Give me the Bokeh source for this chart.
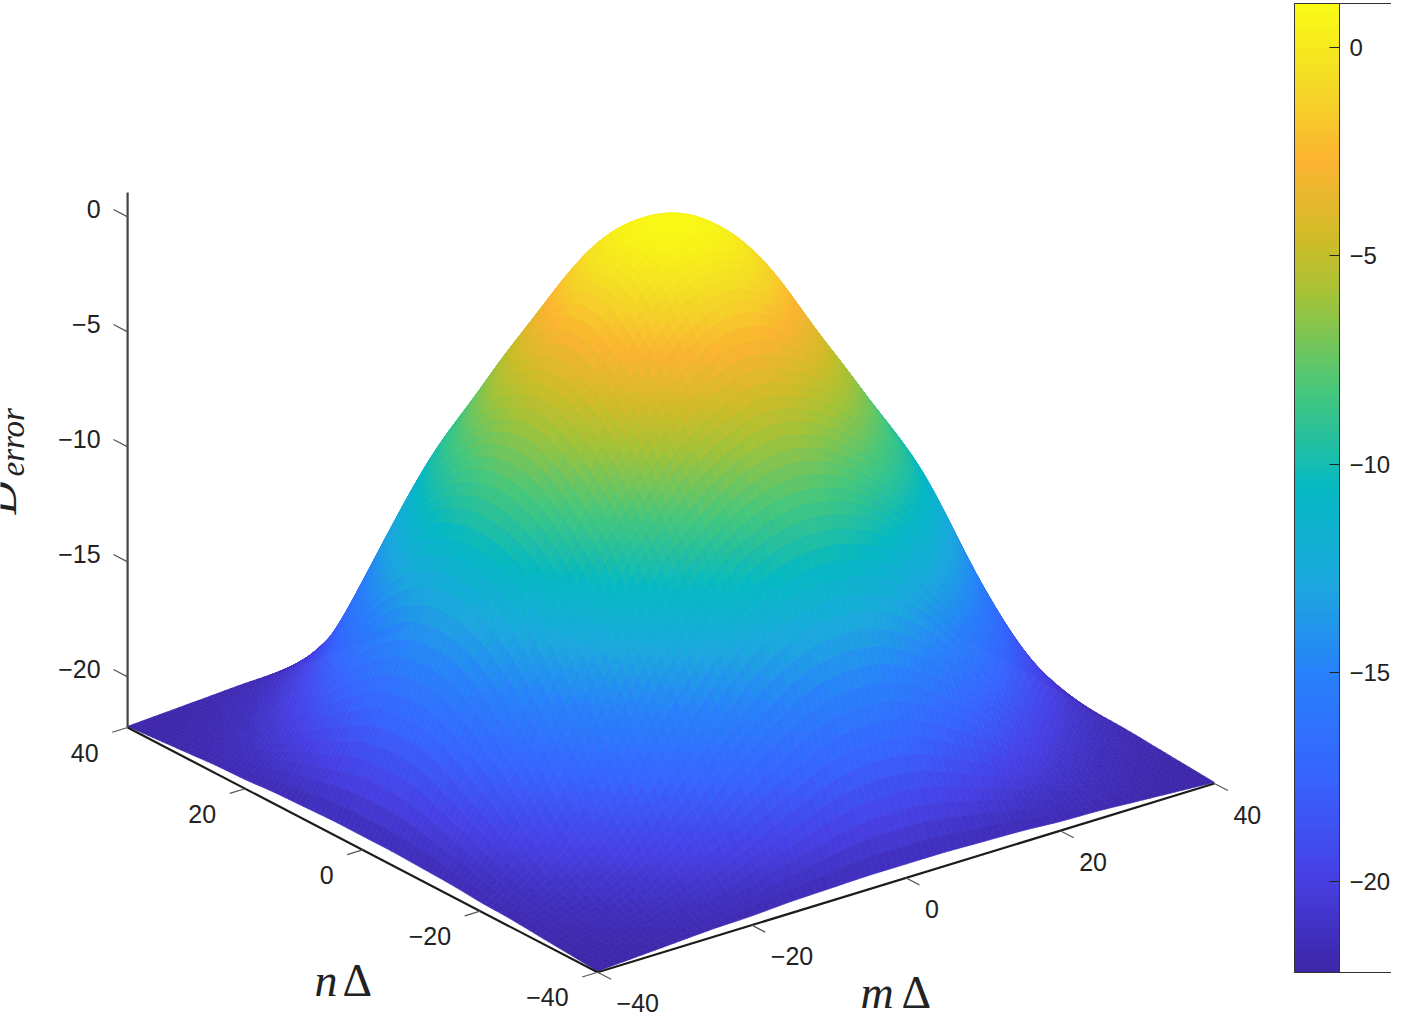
import numpy as np
from bokeh.plotting import figure
from bokeh.models import ColumnDataSource, ColorBar, LinearColorMapper, FixedTicker, Range1d
from bokeh.core.properties import value
from bokeh.embed import file_html
from bokeh.resources import INLINE

grid_m = [-40, -35, -30, -25, -20, -15, -10, -5, 0, 5, 10, 15, 20, 25, 30, 35, 40]
grid_n = [-40, -35, -30, -25, -20, -15, -10, -5, 0, 5, 10, 15, 20, 25, 30, 35, 40]
D_error = [
 [-22.15,-22.05,-21.95,-21.85,-21.8,-21.7,-21.65,-21.6,-21.6,-21.6,-21.65,-21.7,-21.8,-21.85,-21.95,-22.05,-22.15],
 [-22.05,-21.9,-21.6,-21.1,-20.4,-19.5,-18.7,-18.0,-17.8,-18.0,-18.7,-19.5,-20.4,-21.1,-21.6,-21.9,-22.05],
 [-21.95,-21.6,-21.0,-19.9,-18.4,-16.5,-15.0,-14.0,-13.7,-14.0,-15.0,-16.5,-18.4,-19.9,-21.0,-21.6,-21.95],
 [-21.85,-21.1,-19.9,-18.0,-15.3,-13.0,-11.1,-10.2,-9.9,-10.2,-11.1,-13.0,-15.3,-18.0,-19.9,-21.1,-21.85],
 [-21.8,-20.4,-18.4,-15.3,-12.3,-9.9,-8.4,-7.3,-6.9,-7.3,-8.4,-9.9,-12.3,-15.3,-18.4,-20.4,-21.8],
 [-21.7,-19.5,-16.5,-13.0,-9.9,-7.7,-5.7,-4.6,-4.1,-4.6,-5.7,-7.7,-9.9,-13.0,-16.5,-19.5,-21.7],
 [-21.65,-18.7,-15.0,-11.1,-8.4,-5.7,-3.5,-1.8,-1.2,-1.8,-3.5,-5.7,-8.4,-11.1,-15.0,-18.7,-21.65],
 [-21.6,-18.0,-14.0,-10.2,-7.3,-4.6,-1.8,0.0,0.5,0.0,-1.8,-4.6,-7.3,-10.2,-14.0,-18.0,-21.6],
 [-21.6,-17.8,-13.7,-9.9,-6.9,-4.1,-1.2,0.5,1.0,0.5,-1.2,-4.1,-6.9,-9.9,-13.7,-17.8,-21.6],
 [-21.6,-18.0,-14.0,-10.2,-7.3,-4.6,-1.8,0.0,0.5,0.0,-1.8,-4.6,-7.3,-10.2,-14.0,-18.0,-21.6],
 [-21.65,-18.7,-15.0,-11.1,-8.4,-5.7,-3.5,-1.8,-1.2,-1.8,-3.5,-5.7,-8.4,-11.1,-15.0,-18.7,-21.65],
 [-21.7,-19.5,-16.5,-13.0,-9.9,-7.7,-5.7,-4.6,-4.1,-4.6,-5.7,-7.7,-9.9,-13.0,-16.5,-19.5,-21.7],
 [-21.8,-20.4,-18.4,-15.3,-12.3,-9.9,-8.4,-7.3,-6.9,-7.3,-8.4,-9.9,-12.3,-15.3,-18.4,-20.4,-21.8],
 [-21.85,-21.1,-19.9,-18.0,-15.3,-13.0,-11.1,-10.2,-9.9,-10.2,-11.1,-13.0,-15.3,-18.0,-19.9,-21.1,-21.85],
 [-21.95,-21.6,-21.0,-19.9,-18.4,-16.5,-15.0,-14.0,-13.7,-14.0,-15.0,-16.5,-18.4,-19.9,-21.0,-21.6,-21.95],
 [-22.05,-21.9,-21.6,-21.1,-20.4,-19.5,-18.7,-18.0,-17.8,-18.0,-18.7,-19.5,-20.4,-21.1,-21.6,-21.9,-22.05],
 [-22.15,-22.05,-21.95,-21.85,-21.8,-21.7,-21.65,-21.6,-21.6,-21.6,-21.65,-21.7,-21.8,-21.85,-21.95,-22.05,-22.15],
]
m_ticks = [-40, -20, 0, 20, 40]
n_ticks = [-40, -20, 0, 20, 40]
z_ticks = [-20, -15, -10, -5, 0]
cbar_ticks = [-20, -15, -10, -5, 0]
z_limits = (-22.2, 1.06)
c_limits = (-22.18, 1.05)

# Colour map stops (position, r, g, b)
stops = [(0.0,62,38,168),(0.1,71,65,230),(0.2,55,100,255),(0.31,40,130,250),(0.4,28,168,223),
         (0.5,5,185,195),(0.6,70,200,125),(0.7,165,195,55),(0.76,210,188,40),(0.84,253,180,50),
         (0.91,245,215,40),(1.0,249,251,21)]
st = np.array(stops)
tt = np.linspace(0, 1, 256)
palette = ["#%02x%02x%02x" % (int(np.interp(t, st[:,0], st[:,1])), int(np.interp(t, st[:,0], st[:,2])),
                              int(np.interp(t, st[:,0], st[:,3]))) for t in tt]

def project(m, n, z):
    m, n, z = np.asarray(m, float), np.asarray(n, float), np.asarray(z, float)
    x = 678.5 + 7.71*m - 5.875*n
    y = 763.0 - 2.36*m - 3.06*n - 23.0*(z - z_limits[0])
    return x, y

# Smooth colour interpolation across the faces (like MATLAB's "shading interp")
def refine(a, k, axis):
    a = np.moveaxis(np.asarray(a, float), axis, 0)
    ext = np.concatenate([[2*a[0]-a[1]], a, [2*a[-1]-a[-2]]], axis=0)
    out = []
    for i in range(1, len(a)):
        p0, p1, p2, p3 = ext[i-1], ext[i], ext[i+1], ext[i+2]
        for s in range(k):
            t = s/k
            out.append(0.5*((2*p1) + (p2-p0)*t + (2*p0-5*p1+4*p2-p3)*t*t + (3*p1-p0-3*p2+p3)*t**3))
    out.append(a[-1])
    return np.moveaxis(np.array(out), 0, axis)

K = 6
Z = refine(refine(D_error, K, 0), K, 1)
M = refine(np.tile(np.array(grid_m, float), (17, 1)), K, 1)[0]
N = refine(np.tile(np.array(grid_n, float)[:, None], (1, 17)), K, 0)[:, 0]
MM, NN = np.meshgrid(M, N)
X, Y = project(MM, NN, Z)

cells = []
for i in range(Z.shape[0]-1):
    for j in range(Z.shape[1]-1):
        depth = 0.606*(MM[i, j]+MM[i, j+1])/2 + 0.795*(NN[i, j]+NN[i+1, j])/2
        cells.append((depth, i, j))
cells.sort(key=lambda c: -c[0])
xs, ys, cols = [], [], []
for _, i, j in cells:
    xs.append([X[i, j], X[i, j+1], X[i+1, j+1], X[i+1, j]])
    ys.append([Y[i, j], Y[i, j+1], Y[i+1, j+1], Y[i+1, j]])
    v = (Z[i, j]+Z[i, j+1]+Z[i+1, j]+Z[i+1, j+1])/4
    t = np.clip((v-c_limits[0])/(c_limits[1]-c_limits[0]), 0, 1)
    cols.append(palette[int(round(t*255))])

p = figure(width=1391, height=1018, output_backend="svg", toolbar_location=None,
           x_range=Range1d(8, 1399), y_range=Range1d(1026, 8), min_border=0)
p.axis.visible = False
p.grid.visible = False
p.outline_line_color = None
p.background_fill_color = "white"

p.patches("xs", "ys", fill_color="cols", line_color="cols", line_width=0.7,
          source=ColumnDataSource(dict(xs=xs, ys=ys, cols=cols)))

# Axes
AX = "#2a2a2a"
zlo, zhi = z_limits
x, y = project([-40, -40], [40, 40], [zlo, zhi]); p.line(x, y, line_color="#444444", line_width=2.2)
x, y = project([-40, -40], [40, -40], [zlo, zlo]); p.line(x, y, line_color="#1c1c1c", line_width=2.2)
x, y = project([-40, 40], [-40, -40], [zlo, zlo]); p.line(x, y, line_color="#1c1c1c", line_width=2.2)

TICK = "#555555"
for mv in m_ticks:
    x, y = project([mv, mv], [-40, -42.3], [zlo, zlo]); p.line(x, y, line_color=TICK, line_width=1.2)
for nv in n_ticks:
    x, y = project([-40, -42], [nv, nv], [zlo, zlo]); p.line(x, y, line_color=TICK, line_width=1.2)
for zv in z_ticks:
    x, y = project([-40, -40], [40, 42.4], [zv, zv]); p.line(x, y, line_color=TICK, line_width=1.2)

FONT = value("Liberation Sans")
def lab(v):
    return str(v).replace("-", "\u2212")
mx, my = project(m_ticks, [-40]*5, [zlo]*5)
p.text(mx+19, my+31, text=[lab(v) for v in m_ticks], text_font=FONT, text_font_size="25px",
       text_align="left", text_baseline="middle", text_color="#222222")
nx, ny = project([-40]*5, n_ticks, [zlo]*5)
p.text(nx-29, ny+25, text=[lab(v) for v in n_ticks], text_font=FONT, text_font_size="25px",
       text_align="right", text_baseline="middle", text_color="#222222")
zx, zy = project([-40]*5, [40]*5, z_ticks)
p.text(zx-27, zy-8, text=[lab(v) for v in z_ticks], text_font=FONT, text_font_size="25px",
       text_align="right", text_baseline="middle", text_color="#222222")

# Axis titles
SERIF = value("Liberation Serif")
p.text([322], [1013], text=["n"], text_font=SERIF, text_font_style="italic", text_font_size="46px", text_color="#222222")
p.text([350], [1013], text=["\u0394"], text_font=SERIF, text_font_size="46px", text_color="#222222")
p.text([868], [1025], text=["m"], text_font=SERIF, text_font_style="italic", text_font_size="46px", text_color="#222222")
p.text([909], [1025], text=["\u0394"], text_font=SERIF, text_font_size="46px", text_color="#222222")
p.text([33], [522], text=["D"], angle=np.pi/2, text_font=SERIF, text_font_style="italic", text_font_size="46px", text_color="#222222")
p.text([38], [484], text=["error"], angle=np.pi/2, text_font=SERIF, text_font_style="italic", text_font_size="33px", text_color="#222222")

# Colour bar
mapper = LinearColorMapper(palette=palette, low=c_limits[0], high=c_limits[1])
cb = ColorBar(color_mapper=mapper, ticker=FixedTicker(ticks=cbar_ticks), location=(1294, 46),
              width=45, height=969, padding=0, margin=0,
              major_tick_in=10, major_tick_out=0, major_tick_line_color="#222222", major_tick_line_width=1,
              minor_tick_line_color=None, border_line_color="#333333", bar_line_color="#333333",
              background_fill_color=None, label_standoff=10,
              major_label_text_font="Liberation Sans", major_label_text_font_size="24px",
              major_label_text_color="#222222")
p.add_layout(cb, "center")

open("out.html", "w").write(file_html(p, INLINE))
